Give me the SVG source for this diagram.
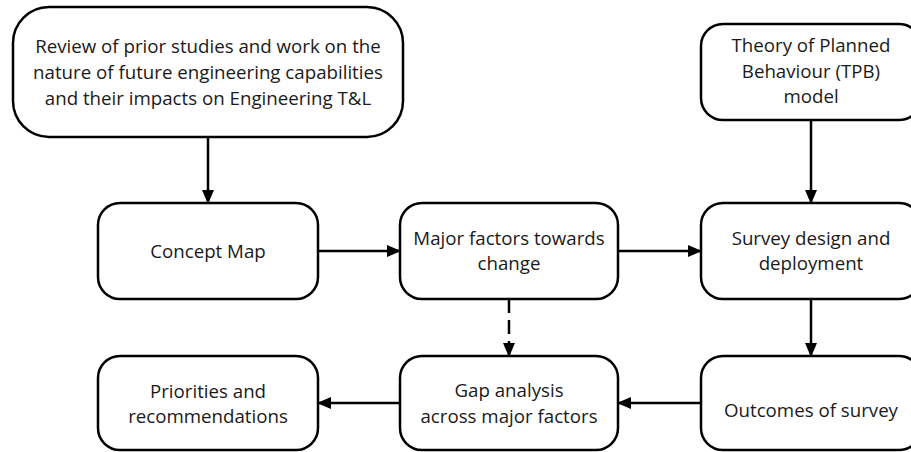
<svg xmlns="http://www.w3.org/2000/svg" width="911" height="452" viewBox="0 0 911 452">
<style>
.box{fill:#fff;stroke:#000;stroke-width:2.5}
.t{font-family:"Open Sans","Liberation Sans",sans-serif;font-size:18.7px;fill:#1a1a1a;text-anchor:middle}
.c{stroke:#000;stroke-width:2.5;fill:none;marker-end:url(#ah)}
</style>
<defs>
<marker id="ah" markerUnits="userSpaceOnUse" markerWidth="14" markerHeight="12" refX="13" refY="6" orient="auto">
<path d="M0,0 L14,6 L0,12 Z" fill="#000"/>
</marker>
</defs>
<rect width="911" height="452" fill="#fff"/>
<g id="connectors">
<line class="c" x1="208" y1="137" x2="208" y2="203"/>
<line class="c" x1="318" y1="251" x2="400" y2="251"/>
<line class="c" x1="618" y1="251" x2="701" y2="251"/>
<line class="c" x1="811" y1="120" x2="811" y2="203"/>
<line class="c" x1="811" y1="299" x2="811" y2="356"/>
<line class="c" x1="509" y1="299" x2="509" y2="356" stroke-dasharray="14,7"/>
<line class="c" x1="701" y1="403" x2="618" y2="403"/>
<line class="c" x1="400" y1="403" x2="318" y2="403"/>
</g>
<g id="review">
<rect class="box" x="13" y="7" width="390" height="130" rx="36"/>
<text class="t" x="208" y="53">Review of prior studies and work on the</text>
<text class="t" x="208" y="79">nature of future engineering capabilities</text>
<text class="t" x="208" y="105">and their impacts on Engineering T&amp;L</text>
</g>
<g id="tpb">
<rect class="box" x="701" y="24" width="220" height="96" rx="22"/>
<text class="t" x="811" y="52">Theory of Planned</text>
<text class="t" x="811" y="78">Behaviour (TPB)</text>
<text class="t" x="811" y="103">model</text>
</g>
<g id="concept">
<rect class="box" x="98" y="203" width="220" height="96" rx="22"/>
<text class="t" x="208" y="258">Concept Map</text>
</g>
<g id="major">
<rect class="box" x="400" y="203" width="218" height="96" rx="22"/>
<text class="t" x="509" y="245">Major factors towards</text>
<text class="t" x="509" y="270">change</text>
</g>
<g id="survey">
<rect class="box" x="701" y="203" width="220" height="96" rx="22"/>
<text class="t" x="811" y="245">Survey design and</text>
<text class="t" x="811" y="270">deployment</text>
</g>
<g id="priorities">
<rect class="box" x="98" y="356" width="220" height="94" rx="22"/>
<text class="t" x="208" y="398">Priorities and</text>
<text class="t" x="208" y="423">recommendations</text>
</g>
<g id="gap">
<rect class="box" x="400" y="356" width="218" height="94" rx="22"/>
<text class="t" x="509" y="397">Gap analysis</text>
<text class="t" x="509" y="423">across major factors</text>
</g>
<g id="outcomes">
<rect class="box" x="701" y="356" width="220" height="94" rx="22"/>
<text class="t" x="811" y="417">Outcomes of survey</text>
</g>
</svg>
